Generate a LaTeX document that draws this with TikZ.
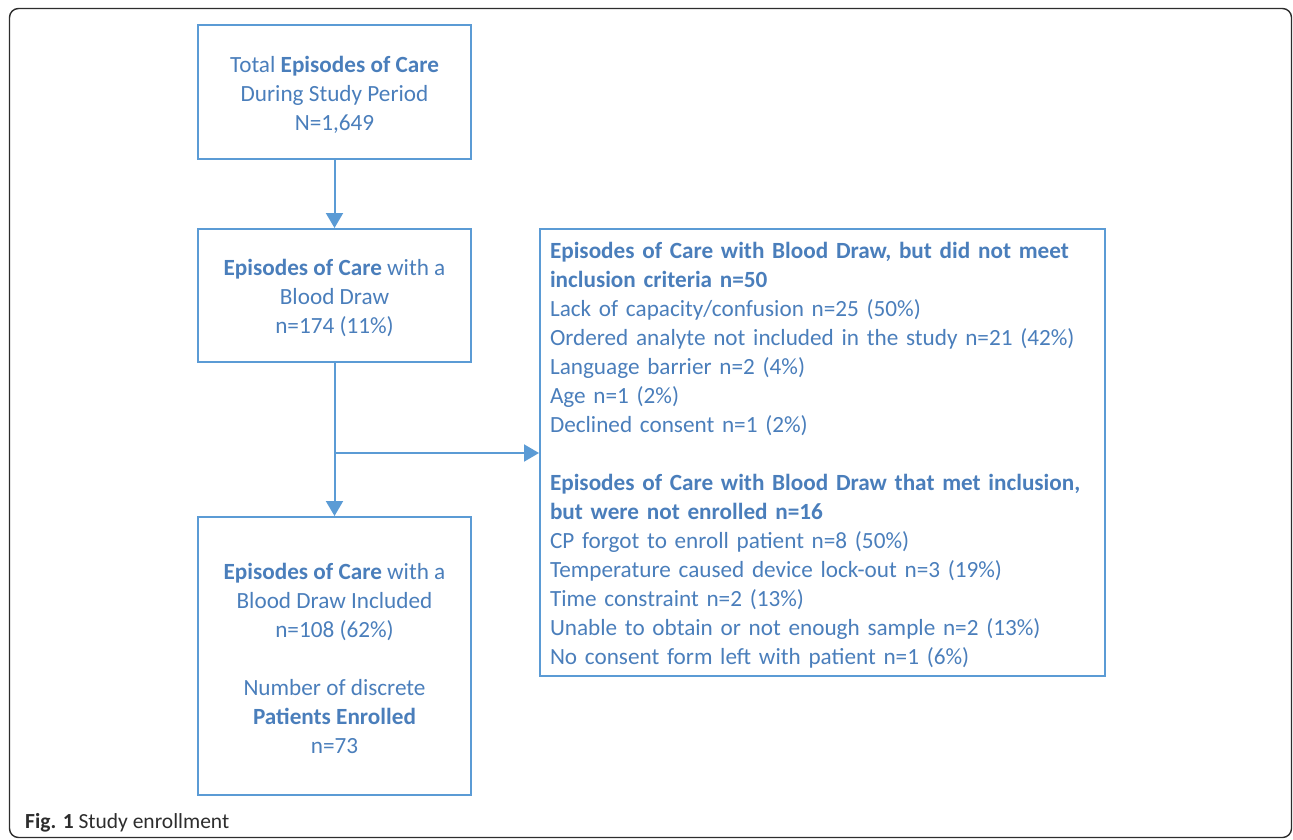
\documentclass[tikz,border=0pt]{standalone}
\usepackage{fontspec}
\setmainfont{Carlito}
\usetikzlibrary{arrows.meta}
\definecolor{txtblue}{RGB}{74,126,187}
\definecolor{lineblue}{RGB}{91,155,213}
\definecolor{capgray}{RGB}{45,45,45}
\tikzset{
  flowbox/.style={draw=lineblue, line width=2pt, minimum width=273pt, inner sep=0pt},
  flowtext/.style={text=txtblue, align=center, inner sep=0pt,
    font=\fontsize{23.2}{29}\selectfont},
  listbox/.style={draw=lineblue, line width=2pt,
    minimum width=565pt, minimum height=447pt, inner sep=0pt},
  listtext/.style={text=txtblue, align=left, text width=545pt, inner sep=0pt,
    font=\fontsize{23.2}{29}\selectfont},
  arr/.style={draw=lineblue, line width=2pt, -{Triangle[width=17pt,length=15pt]}},
}
\begin{document}
\begin{tikzpicture}[x=1pt,y=-1pt]
\useasboundingbox (0,0) rectangle (1293,839);
\draw[capgray, line width=1.4pt, rounded corners=9pt] (9.5,8.5) rectangle (1291.5,837.5);

\node[flowbox, minimum height=134pt] (b1) at (334.5,92) {};
\node[flowtext] (t1) at ([yshift=-2.5pt]b1.center) {Total \textbf{Episodes of Care}\\During Study Period\\N=1,649};
\node[flowbox, minimum height=133pt] (b2) at (334.5,295.5) {};
\node[flowtext] (t2) at ([yshift=-2.5pt]b2.center) {\textbf{Episodes of Care} with a\\Blood Draw\\n=174 (11\%)};
\node[flowbox, minimum height=278pt] (b3) at (334.5,656) {};
\node[flowtext] (t3) at ([yshift=-2.5pt]b3.center) {\textbf{Episodes of Care} with a\\Blood Draw Included\\n=108 (62\%)\\[29pt]Number of discrete\\\textbf{Patients Enrolled}\\n=73};

\node[listbox] (rb) at (822.5,452.5) {};
\node[listtext] (rt) at ([yshift=-2.5pt]rb.center) {\textbf{Episodes of Care with Blood Draw, but did not meet}\\
\textbf{inclusion criteria n=50}\\
Lack of capacity/confusion n=25 (50\%)\\
Ordered analyte not included in the study n=21 (42\%)\\
Language barrier n=2 (4\%)\\
Age n=1 (2\%)\\
Declined consent n=1 (2\%)\\[29pt]
\textbf{Episodes of Care with Blood Draw that met inclusion,}\\
\textbf{but were not enrolled n=16}\\
CP forgot to enroll patient n=8 (50\%)\\
Temperature caused device lock-out n=3 (19\%)\\
Time constraint n=2 (13\%)\\
Unable to obtain or not enough sample n=2 (13\%)\\
No consent form left with patient n=1 (6\%)};

\draw[arr] (b1.south) -- (b2.north);
\draw[arr] (b2.south) -- (b3.north);
\coordinate (br) at (334.5,453);
\draw[arr] (br) -- (br -| rb.west);

\node[anchor=base west, text=capgray, inner sep=0pt, font=\fontsize{21.5}{24}\selectfont] (cap) at (25,828) {\textbf{Fig. 1} Study enrollment};
\end{tikzpicture}
\end{document}
